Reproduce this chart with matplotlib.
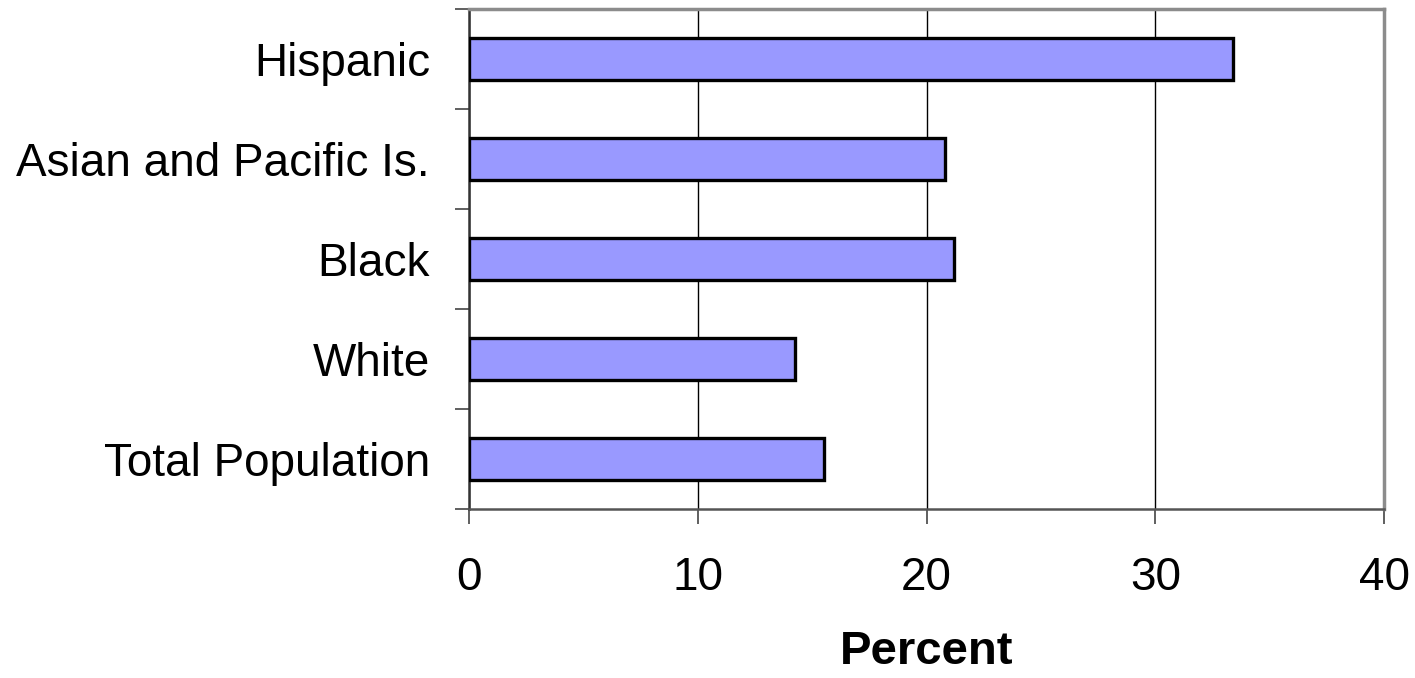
import numpy as np
import matplotlib
matplotlib.use("Agg")
import matplotlib.pyplot as plt

plt.rcParams["font.family"] = ["Liberation Sans", "DejaVu Sans"]

groups = ["Total Population", "White", "Black", "Asian and Pacific Is.", "Hispanic"]
percent = [15.5, 14.25, 21.2, 20.8, 33.4]
x_ticks = [0, 10, 20, 30, 40]

fig = plt.figure(figsize=(14.15, 6.78), dpi=100)
ax = fig.add_axes([469 / 1415, 1 - 509 / 678, (1384 - 469) / 1415, 500 / 678])

y = np.arange(len(groups))
ax.barh(y, percent, height=0.42, color="#9999FF", edgecolor="black",
        linewidth=2.4, zorder=3)

ax.set_xlim(0, 40)
ax.set_ylim(-0.5, len(groups) - 0.5)

# vertical gridlines
ax.set_xticks(x_ticks)
ax.xaxis.grid(True, color="black", linewidth=1.0, zorder=1)
ax.set_axisbelow(True)

ax.tick_params(axis="x", direction="out", length=11, width=1.2, color="#444444",
               labelsize=33, pad=23)

# category labels centered, ticks between categories
ax.set_yticks(y)
ax.set_yticklabels(groups)
ax.set_yticks(np.arange(-0.5, len(groups), 1.0), minor=True)
ax.tick_params(axis="y", which="major", length=0, labelsize=33, pad=28)
ax.tick_params(axis="y", which="minor", direction="out", length=10, width=1.2,
               color="#444444")

for side in ["top", "right"]:
    ax.spines[side].set_color("#8c8c8c")
    ax.spines[side].set_linewidth(2.5)
ax.spines["left"].set_color("#333333")
ax.spines["left"].set_linewidth(1.8)
ax.spines["bottom"].set_color("#555555")
ax.spines["bottom"].set_linewidth(1.8)

fig.text(927 / 1415, 1 - 652 / 678, "Percent", ha="center", va="center",
         fontsize=34, fontweight="bold")

fig.savefig("out.png", dpi=100)
